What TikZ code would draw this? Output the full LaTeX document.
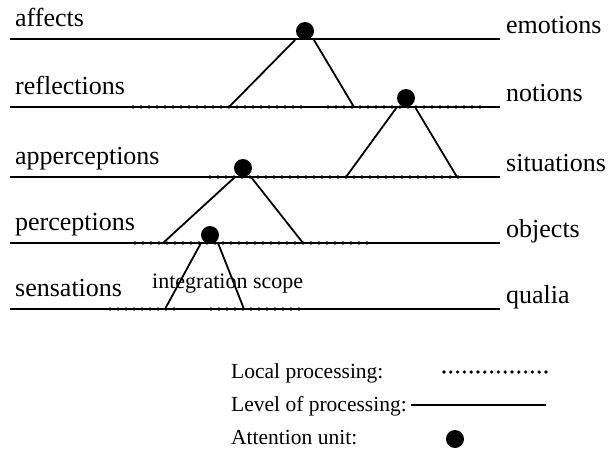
\documentclass[tikz,border=0pt]{standalone}
\usepackage{fontspec}
\setmainfont{Liberation Serif}
\begin{document}
\begin{tikzpicture}[x=1pt,y=-1pt,
  level/.style={line width=1.5pt},
  local/.style={line width=3.6pt, line cap=round, dash pattern=on 0pt off 8pt},
  leglocal/.style={local, dash pattern=on 0pt off 6.8pt},
  leg/.style={line width=1.8pt},
  att/.style={circle, fill=black, inner sep=0pt, minimum size=18pt},
  lab/.style={anchor=base west, inner sep=0pt, font=\fontsize{26}{30}\selectfont},
  leglab/.style={anchor=base west, inner sep=0pt, font=\fontsize{21.5}{26}\selectfont}]
\useasboundingbox (0,0) rectangle (611,459);
% level lines
\foreach \n/\y in {a/39,b/107,c/177,d/243,e/309}{
  \coordinate (L\n) at (10,\y);
  \coordinate (R\n) at (500,\y);
  \draw[level] (L\n) -- (R\n);
}
% labels
\node[lab] (affects) at (15,26) {affects};
\node[lab] (reflections) at (15,94) {reflections};
\node[lab] (apperceptions) at (15,164) {apperceptions};
\node[lab] (perceptions) at (15,230) {perceptions};
\node[lab] (sensations) at (15,296) {sensations};
\node[lab] (emotions) at (506,33) {emotions};
\node[lab] (notions) at (506,101) {notions};
\node[lab] (situations) at (506,171) {situations};
\node[lab] (objects) at (506,237) {objects};
\node[lab] (qualia) at (506,303) {qualia};
% local processing
\draw[local] (133,107) coordinate (p1) -- (307,107) coordinate (p2);
\draw[local] (328,107) coordinate (p3) -- (480,107) coordinate (p4);
\draw[local] (210,177) coordinate (p5) -- (460,177) coordinate (p6);
\draw[local] (135,243) coordinate (p7) -- (368,243) coordinate (p8);
\draw[local] (110,309) coordinate (p9) -- (180,309) coordinate (p10);
\draw[local] (211,309) coordinate (p11) -- (305,309) coordinate (p12);
% triangles
\node[att] (u1) at (305,31) {};
\coordinate (u1l) at (295,40); \coordinate (u1r) at (314,40);
\coordinate (b1l) at (229,107); \coordinate (b1r) at (354,107);
\draw[leg] (u1l) -- (b1l); \draw[leg] (u1r) -- (b1r);
\node[att] (u2) at (406,98) {};
\coordinate (u2l) at (397,107); \coordinate (u2r) at (415,107);
\coordinate (b2l) at (346,177); \coordinate (b2r) at (457,177);
\draw[leg] (u2l) -- (b2l); \draw[leg] (u2r) -- (b2r);
\node[att] (u3) at (243,168) {};
\coordinate (u3l) at (235,177); \coordinate (u3r) at (251,177);
\coordinate (b3l) at (163,243); \coordinate (b3r) at (303,243);
\draw[leg] (u3l) -- (b3l); \draw[leg] (u3r) -- (b3r);
\node[att] (u4) at (210,235) {};
\coordinate (u4l) at (201,243); \coordinate (u4r) at (218,243);
\coordinate (b4l) at (165,309); \coordinate (b4r) at (244,309);
\draw[leg] (u4l) -- (b4l); \draw[leg] (u4r) -- (b4r);
\node[anchor=base west, inner sep=0pt, font=\fontsize{22}{26}\selectfont] (scope) at (152,288) {integration scope};
% legend
\node[leglab] (lp) at (231,378) {Local processing:};
\draw[leglocal] (444,372) coordinate (lp1) -- (546,372) coordinate (lp2);
\node[leglab] (lv) at (231,411) {Level of processing:};
\draw[level] (411,405) coordinate (lv1) -- (546,405) coordinate (lv2);
\node[leglab] (au) at (231,444) {Attention unit:};
\node[att] (audot) at (455,439) {};
\end{tikzpicture}
\end{document}
